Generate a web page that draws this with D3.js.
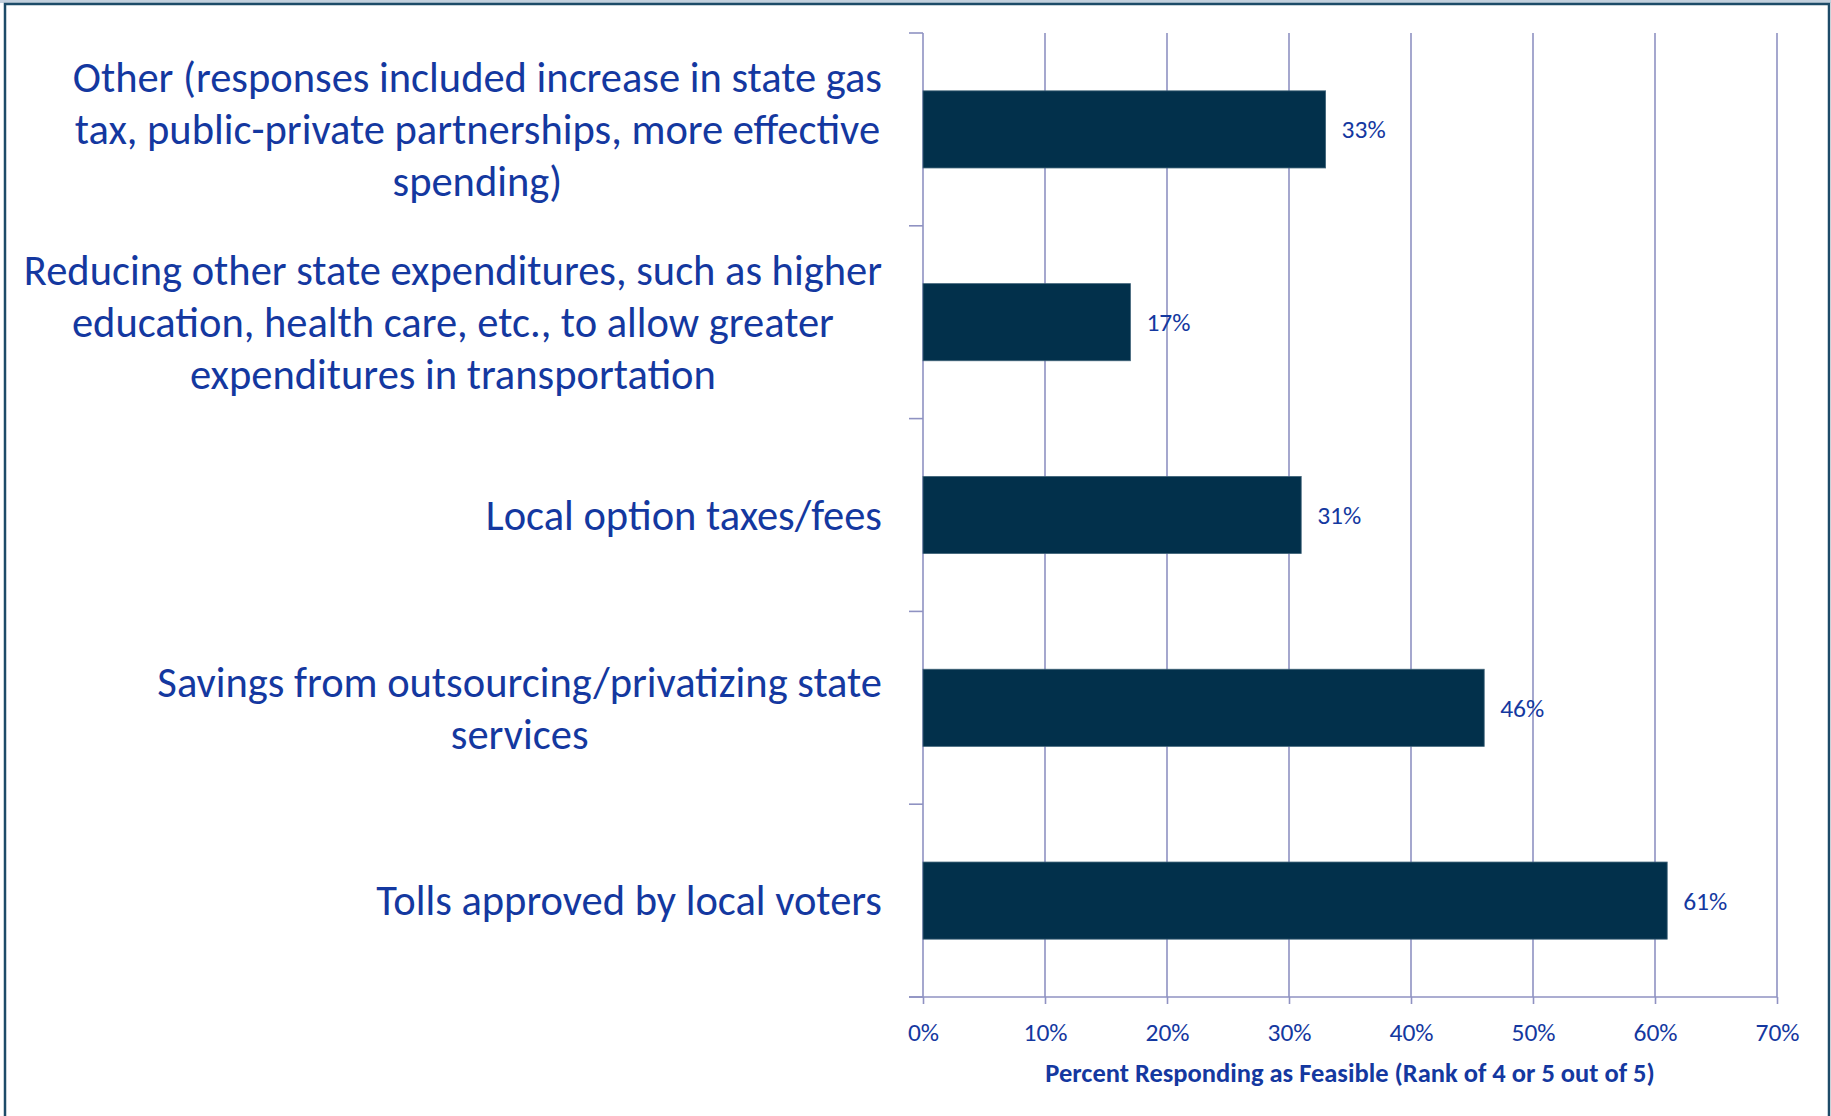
<!DOCTYPE html>
<meta charset="utf-8">
<script src="https://d3js.org/d3.v7.min.js"></script>
<style>
  body { margin: 0; background: #fff; }
  text { font-family: Carlito, Calibri, Lato, sans-serif; }
</style>
<div id="chart"></div>
<script>
// data (top to bottom)
const categories = [
  "Other (responses included increase in state gas tax, public-private partnerships, more effective spending)",
  "Reducing other state expenditures, such as higher education, health care, etc., to allow greater expenditures in transportation",
  "Local option taxes/fees",
  "Savings from outsourcing/privatizing state services",
  "Tolls approved by local voters"
];
// how each label wraps in the original
const labelLines = [
  ["Other (responses included increase in state gas", "tax, public-private partnerships, more effective", "spending)"],
  ["Reducing other state expenditures, such as higher", "education, health care, etc., to allow greater", "expenditures in transportation"],
  ["Local option taxes/fees"],
  ["Savings from outsourcing/privatizing state", "services"],
  ["Tolls approved by local voters"]
];
const values = [0.33, 0.17, 0.31, 0.46, 0.61];
const xTicks = [0, 0.1, 0.2, 0.3, 0.4, 0.5, 0.6, 0.7];
const xTitle = "Percent Responding as Feasible (Rank of 4 or 5 out of 5)";

const W = 1831, H = 1116;
const margin = {top: 33, right: 54, bottom: 119, left: 923};
const width = W - margin.left - margin.right,
      height = H - margin.top - margin.bottom;

const textBlue = "#1438a0", gridCol = "#8f92c2", barCol = "#02304b";

const svg = d3.select("#chart").append("svg")
  .attr("width", W).attr("height", H);

// frame of the slide
svg.append("rect").attr("x", 0).attr("y", 0).attr("width", W).attr("height", 3)
  .attr("fill", "#c3d0dd");
svg.append("rect").attr("x", 5).attr("y", 4).attr("width", W - 7).attr("height", H + 10)
  .attr("fill", "none").attr("stroke", "#1d4b68").attr("stroke-width", 2.5);

const g = svg.append("g").attr("transform", `translate(${margin.left},${margin.top})`);

const x = d3.scaleLinear().domain([0, 0.7]).range([0, width]);
const y = d3.scaleBand().domain(categories).range([0, height])
  .paddingInner(0.6).paddingOuter(0.3);

// vertical gridlines
g.append("g").selectAll("line").data(xTicks.slice(1)).join("line")
  .attr("x1", d => x(d)).attr("x2", d => x(d))
  .attr("y1", 0).attr("y2", height)
  .attr("stroke", gridCol).attr("stroke-width", 1.6);

// x axis
const xAxis = g.append("g").attr("transform", `translate(0,${height})`)
  .call(d3.axisBottom(x).tickValues(xTicks).tickFormat(d3.format(".0%"))
    .tickSizeInner(7).tickSizeOuter(0).tickPadding(19));
xAxis.select(".domain").remove();
xAxis.append("line").attr("x1", -14).attr("x2", width).attr("y1", 0).attr("y2", 0)
  .attr("stroke", gridCol).attr("stroke-width", 1.6);
xAxis.selectAll(".tick line").attr("stroke", gridCol).attr("stroke-width", 1.6);
xAxis.selectAll(".tick text").attr("fill", textBlue).attr("font-size", 25.5);

// y axis: line plus ticks at band boundaries
const step = y.step();
const bounds = d3.range(categories.length + 1).map(i => i * step);
g.append("line").attr("x1", 0).attr("x2", 0).attr("y1", 0).attr("y2", height)
  .attr("stroke", gridCol).attr("stroke-width", 1.6);
g.append("g").selectAll("line").data(bounds).join("line")
  .attr("x1", -14).attr("x2", 0).attr("y1", d => d).attr("y2", d => d)
  .attr("stroke", gridCol).attr("stroke-width", 1.6);

// bars
g.append("g").selectAll("rect").data(values).join("rect")
  .attr("x", 0).attr("y", (d, i) => y(categories[i]))
  .attr("width", d => x(d)).attr("height", y.bandwidth())
  .attr("fill", barCol).attr("stroke", "#3f6378").attr("stroke-width", 0.8);

// value labels
g.append("g").selectAll("text").data(values).join("text")
  .attr("x", d => x(d) + 16)
  .attr("y", (d, i) => y(categories[i]) + y.bandwidth() / 2)
  .attr("dy", "0.35em").attr("fill", textBlue).attr("font-size", 25.5)
  .text(d => d3.format(".0%")(d));

// category labels: block right-aligned at the axis gap, lines centred
const labelRight = -41, lineH = 52, labelSize = 42.5;
categories.forEach((c, i) => {
  const lines = labelLines[i];
  const t = g.append("text").attr("fill", textBlue).attr("font-size", labelSize)
    .attr("text-anchor", "middle");
  const cy = y(c) + y.bandwidth() / 2;
  lines.forEach((ln, j) => {
    t.append("tspan").attr("x", 0)
      .attr("y", cy + (j - (lines.length - 1) / 2) * lineH)
      .attr("dy", "0.35em").text(ln);
  });
  // widest line decides where the block sits
  let wMax = 0;
  t.selectAll("tspan").each(function() { wMax = Math.max(wMax, this.getComputedTextLength()); });
  t.attr("transform", `translate(${labelRight - wMax / 2},0)`);
});

// x title
g.append("text").attr("x", width / 2).attr("y", height + 76)
  .attr("text-anchor", "middle").attr("dy", "0.35em")
  .attr("fill", textBlue).attr("font-size", 26.5).attr("font-weight", "bold")
  .text(xTitle);
</script>
